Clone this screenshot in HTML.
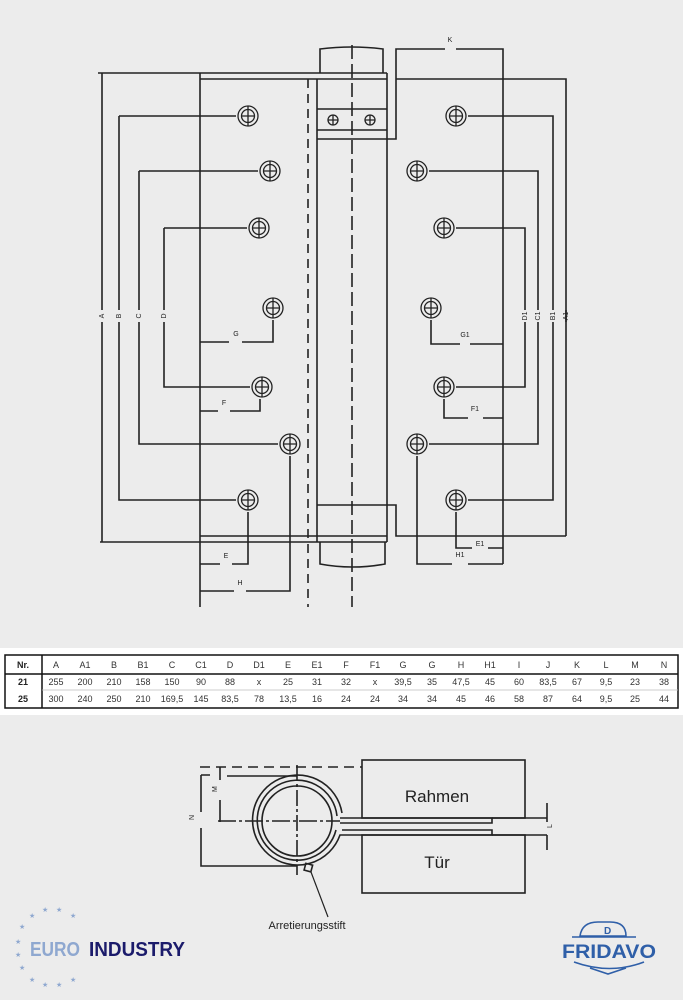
<!DOCTYPE html>
<html><head><meta charset="utf-8"><style>
html,body{margin:0;padding:0;background:#ececec;}
svg{display:block}
text{font-family:"Liberation Sans",sans-serif;}
</style></head><body>
<svg width="683" height="1000" viewBox="0 0 683 1000" xmlns="http://www.w3.org/2000/svg">
<defs>
<g id="h" stroke="#222" stroke-width="1.3" fill="#ececec"><circle r="10"/><circle r="6.5"/><path d="M-6.5,0H6.5M0,-10V10"/></g>
</defs>
<rect width="683" height="1000" fill="#ececec"/>
<g stroke="#222" stroke-width="1.6" fill="none">
<path d="M320,73 V49 Q352,45 383,49 V73"/>
<path d="M98,73 H387 M200,79 H387 M200,73 V607"/>
<path d="M317,79 V542 M387,73 V542"/>
<path d="M317,109 H387 M317,130 H387 M317,139 H396 V49 H445 M456,49 H503 V564"/>
<path d="M396,79 H566 V536"/>
<path d="M308,79 V607" stroke-dasharray="9,6"/>
<path d="M352,45 V607" stroke-dasharray="14,5"/>
<path d="M102,73 V310 M102,322 V542 M100,542 H387 M200,536 H387"/>
<path d="M320,542 V564 Q352,570 385,564 V542"/>
<path d="M317,505 H396 V536 H566"/>
<path d="M119,116 H236 M119,116 V310 M119,322 V500 H236"/>
<path d="M139,171 H258 M139,171 V310 M139,322 V444 H278"/>
<path d="M164,228 H247 M164,228 V310 M164,322 V387 H250"/>
<path d="M200,342 H229 M242,342 H273 V320"/>
<path d="M200,411 H218 M230,411 H260 V399"/>
<path d="M200,564 H220 M232,564 H248 V512"/>
<path d="M200,591 H234 M246,591 H290 V456"/>
<path d="M468,116 H553 V310 M553,322 V500 H468"/>
<path d="M429,171 H538 V310 M538,322 V444 H429"/>
<path d="M456,228 H525 V310 M525,322 V387 H456"/>
<path d="M431,320 V344 H460 M470,344 H503"/>
<path d="M444,399 V418 H468 M483,418 H503"/>
<path d="M456,512 V548 H472 M488,548 H503"/>
<path d="M417,456 V564 H452 M468,564 H503"/>
<path d="M566,310 V322"/>
</g>
<use href="#h" x="248" y="116"/><use href="#h" x="270" y="171"/><use href="#h" x="259" y="228"/>
<use href="#h" x="273" y="308"/><use href="#h" x="262" y="387"/><use href="#h" x="290" y="444"/>
<use href="#h" x="248" y="500"/>
<use href="#h" x="456" y="116"/><use href="#h" x="417" y="171"/><use href="#h" x="444" y="228"/>
<use href="#h" x="431" y="308"/><use href="#h" x="444" y="387"/><use href="#h" x="417" y="444"/>
<use href="#h" x="456" y="500"/>
<g stroke="#222" stroke-width="1.3" fill="#ececec">
<circle cx="333" cy="120" r="5"/><path d="M328,120h10M333,115v10"/>
<circle cx="370" cy="120" r="5"/><path d="M365,120h10M370,115v10"/>
</g>
<g font-size="7" fill="#222" text-anchor="middle">
<text x="450" y="42">K</text><text x="236" y="336">G</text><text x="224" y="405">F</text>
<text x="226" y="558">E</text><text x="240" y="585">H</text>
<text x="465" y="337">G1</text><text x="475" y="411">F1</text><text x="480" y="546">E1</text><text x="460" y="557">H1</text>
<text transform="translate(104,316) rotate(-90)">A</text>
<text transform="translate(121,316) rotate(-90)">B</text>
<text transform="translate(141,316) rotate(-90)">C</text>
<text transform="translate(166,316) rotate(-90)">D</text>
<text transform="translate(527,316) rotate(-90)">D1</text>
<text transform="translate(540,316) rotate(-90)">C1</text>
<text transform="translate(555,316) rotate(-90)">B1</text>
<text transform="translate(568,316) rotate(-90)">A1</text>
</g>
<rect x="0" y="648" width="683" height="67" fill="#fff"/>
<rect x="5" y="655" width="673" height="53" fill="#fff" stroke="#111" stroke-width="1.5"/>
<path d="M5,674H678 M42,655V708" stroke="#111" stroke-width="1.5"/>
<path d="M42,690H678" stroke="#bbb" stroke-width="0.8"/>
<g font-size="9" fill="#222" text-anchor="middle" font-weight="bold">
<text x="23" y="668">Nr.</text><text x="23" y="685">21</text><text x="23" y="702">25</text>
</g>
<g font-size="9" fill="#333" text-anchor="middle">
<text x="56" y="668">A</text><text x="56" y="685">255</text><text x="56" y="702">300</text>
<text x="85" y="668">A1</text><text x="85" y="685">200</text><text x="85" y="702">240</text>
<text x="114" y="668">B</text><text x="114" y="685">210</text><text x="114" y="702">250</text>
<text x="143" y="668">B1</text><text x="143" y="685">158</text><text x="143" y="702">210</text>
<text x="172" y="668">C</text><text x="172" y="685">150</text><text x="172" y="702">169,5</text>
<text x="201" y="668">C1</text><text x="201" y="685">90</text><text x="201" y="702">145</text>
<text x="230" y="668">D</text><text x="230" y="685">88</text><text x="230" y="702">83,5</text>
<text x="259" y="668">D1</text><text x="259" y="685">x</text><text x="259" y="702">78</text>
<text x="288" y="668">E</text><text x="288" y="685">25</text><text x="288" y="702">13,5</text>
<text x="317" y="668">E1</text><text x="317" y="685">31</text><text x="317" y="702">16</text>
<text x="346" y="668">F</text><text x="346" y="685">32</text><text x="346" y="702">24</text>
<text x="375" y="668">F1</text><text x="375" y="685">x</text><text x="375" y="702">24</text>
<text x="403" y="668">G</text><text x="403" y="685">39,5</text><text x="403" y="702">34</text>
<text x="432" y="668">G</text><text x="432" y="685">35</text><text x="432" y="702">34</text>
<text x="461" y="668">H</text><text x="461" y="685">47,5</text><text x="461" y="702">45</text>
<text x="490" y="668">H1</text><text x="490" y="685">45</text><text x="490" y="702">46</text>
<text x="519" y="668">I</text><text x="519" y="685">60</text><text x="519" y="702">58</text>
<text x="548" y="668">J</text><text x="548" y="685">83,5</text><text x="548" y="702">87</text>
<text x="577" y="668">K</text><text x="577" y="685">67</text><text x="577" y="702">64</text>
<text x="606" y="668">L</text><text x="606" y="685">9,5</text><text x="606" y="702">9,5</text>
<text x="635" y="668">M</text><text x="635" y="685">23</text><text x="635" y="702">25</text>
<text x="664" y="668">N</text><text x="664" y="685">38</text><text x="664" y="702">44</text>
</g>
<g stroke="#222" stroke-width="1.6" fill="none">
<rect x="362" y="760" width="163" height="58"/>
<rect x="362" y="835" width="163" height="58"/>
<path d="M200,767 H362" stroke-dasharray="10,6"/>
<path d="M220,767 V780 M220,800 V822"/>
<path d="M227,776 H297"/>
<path d="M201,775 H210 M201,775 V812 M201,828 V866 H297"/>
<path d="M218,821 H340" stroke-dasharray="18,3,3,3"/>
<path d="M297,765 V875" stroke-dasharray="16,3,3,3"/>
<circle cx="297" cy="821" r="35"/>
<path d="M337,816 A40,40 0 1 0 336,830"/>
<path d="M340,818 H492 V823 H340"/>
<path d="M342,830 H492 V835 H340 A45,45 0 1 1 342,813"/>
<path d="M492,818 H547 M492,835 H547 M547,803 V822 M547,835 V850"/>
<rect x="305" y="864" width="7" height="7" transform="rotate(15 308 867)"/>
<path d="M311,872 L328,917" stroke-width="1.2"/>
</g>
<g fill="#222">
<text x="437" y="802" font-size="17" text-anchor="middle">Rahmen</text>
<text x="437" y="868" font-size="17" text-anchor="middle">Tür</text>
<text x="307" y="929" font-size="11" text-anchor="middle">Arretierungsstift</text>
<text x="214" y="795" font-size="7" transform="rotate(-90 214 792)">M</text>
<text x="192" y="822" font-size="7" transform="rotate(-90 192 820)">N</text>
<text x="552" y="828" font-size="7" transform="rotate(-90 552 828)">L</text>
</g>
<g fill="#8fa8d0" font-size="7">
<text x="29" y="918">★</text><text x="42" y="912">★</text><text x="56" y="912">★</text><text x="70" y="918">★</text>
<text x="19" y="929">★</text><text x="15" y="944">★</text><text x="15" y="957">★</text><text x="19" y="970">★</text>
<text x="29" y="982">★</text><text x="42" y="987">★</text><text x="56" y="987">★</text><text x="70" y="982">★</text>
</g>
<text x="30" y="956" font-size="20" font-weight="bold" fill="#8fa8d0" textLength="50" lengthAdjust="spacingAndGlyphs">EURO</text>
<text x="89" y="956" font-size="20" font-weight="bold" fill="#1b1b6b" textLength="96" lengthAdjust="spacingAndGlyphs">INDUSTRY</text>
<g stroke="#2f5fa8" stroke-width="1.6" fill="none">
<path d="M580,936 Q582,922 598,922 H610 Q626,922 626,936 Z"/>
<path d="M572,937 H636"/>
<path d="M574,962 Q610,975 644,962 M590,968 L608,974 L626,968"/>
</g>
<text x="604" y="934" font-size="10" font-weight="bold" fill="#2f5fa8" font-family="Liberation Serif,serif">D</text>
<text x="562" y="958" font-size="19" font-weight="bold" fill="#2f5fa8" font-family="Liberation Serif,serif" textLength="94" lengthAdjust="spacingAndGlyphs">FRIDAVO</text>
</svg>
</body></html>
